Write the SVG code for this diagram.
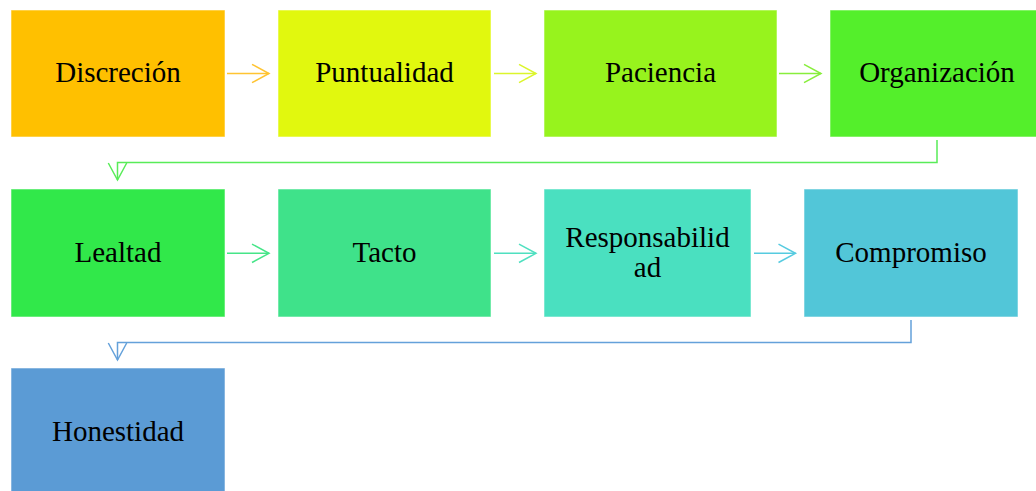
<svg xmlns="http://www.w3.org/2000/svg" width="1036" height="491" viewBox="0 0 1036 491">
  <style>
    .box { stroke: #ffffff; stroke-opacity: 0.55; stroke-width: 1; }
    .lbl { font-family: "Liberation Serif", "Times New Roman", serif; font-size: 29px; fill: #000000; text-anchor: middle; }
    .con { fill: none; stroke-width: 1.5; }
  </style>
  <defs>
    <marker id="m1" markerUnits="userSpaceOnUse" markerWidth="20" markerHeight="22" refX="18" refY="10" orient="auto" overflow="visible">
      <path d="M1 0.8 L18 10 L1 19.2" fill="none" stroke="#FFC432" stroke-width="1.5"/>
    </marker>
    <marker id="m2" markerUnits="userSpaceOnUse" markerWidth="20" markerHeight="22" refX="18" refY="10" orient="auto" overflow="visible">
      <path d="M1 0.8 L18 10 L1 19.2" fill="none" stroke="#DCF52C" stroke-width="1.5"/>
    </marker>
    <marker id="m3" markerUnits="userSpaceOnUse" markerWidth="20" markerHeight="22" refX="18" refY="10" orient="auto" overflow="visible">
      <path d="M1 0.8 L18 10 L1 19.2" fill="none" stroke="#88EE3C" stroke-width="1.5"/>
    </marker>
    <marker id="m4" markerUnits="userSpaceOnUse" markerWidth="20" markerHeight="22" refX="18" refY="10" orient="auto" overflow="visible">
      <path d="M1 0.8 L18 10 L1 19.2" fill="none" stroke="#58EC58" stroke-width="1.5"/>
    </marker>
    <marker id="m5" markerUnits="userSpaceOnUse" markerWidth="20" markerHeight="22" refX="18" refY="10" orient="auto" overflow="visible">
      <path d="M1 0.8 L18 10 L1 19.2" fill="none" stroke="#46E588" stroke-width="1.5"/>
    </marker>
    <marker id="m6" markerUnits="userSpaceOnUse" markerWidth="20" markerHeight="22" refX="18" refY="10" orient="auto" overflow="visible">
      <path d="M1 0.8 L18 10 L1 19.2" fill="none" stroke="#4FE0C0" stroke-width="1.5"/>
    </marker>
    <marker id="m7" markerUnits="userSpaceOnUse" markerWidth="20" markerHeight="22" refX="18" refY="10" orient="auto" overflow="visible">
      <path d="M1 0.8 L18 10 L1 19.2" fill="none" stroke="#56CBE0" stroke-width="1.5"/>
    </marker>
    <marker id="m8" markerUnits="userSpaceOnUse" markerWidth="20" markerHeight="22" refX="18" refY="10" orient="auto" overflow="visible">
      <path d="M1 0.8 L18 10 L1 19.2" fill="none" stroke="#64A1DA" stroke-width="1.5"/>
    </marker>
  </defs>

  <g id="connectors">
    <path class="con" stroke="#FFC432" d="M227 73.5 H269" marker-end="url(#m1)"/>
    <path class="con" stroke="#DCF52C" d="M494 73.5 H536" marker-end="url(#m2)"/>
    <path class="con" stroke="#88EE3C" d="M779 73.5 H821" marker-end="url(#m3)"/>
    <path class="con" stroke="#58EC58" d="M937 140 V162.5 H117.5 V180" marker-end="url(#m4)"/>
    <path class="con" stroke="#46E588" d="M227 253.3 H269" marker-end="url(#m5)"/>
    <path class="con" stroke="#4FE0C0" d="M494 253.3 H536" marker-end="url(#m6)"/>
    <path class="con" stroke="#56CBE0" d="M754 253.3 H795.5" marker-end="url(#m7)"/>
    <path class="con" stroke="#64A1DA" d="M911 320 V342.5 H117.5 V360" marker-end="url(#m8)"/>
  </g>

  <g id="n-discrecion">
    <rect class="box" x="11" y="10" width="214" height="127" fill="#FFC000"/>
    <text class="lbl" x="118" y="82">Discreción</text>
  </g>
  <g id="n-puntualidad">
    <rect class="box" x="278" y="10" width="213" height="127" fill="#E1F80E"/>
    <text class="lbl" x="384.5" y="82">Puntualidad</text>
  </g>
  <g id="n-paciencia">
    <rect class="box" x="544" y="10" width="233" height="127" fill="#97F31D"/>
    <text class="lbl" x="660.5" y="82">Paciencia</text>
  </g>
  <g id="n-organizacion">
    <rect class="box" x="830" y="10" width="214" height="127" fill="#54EF2B"/>
    <text class="lbl" x="937" y="82">Organización</text>
  </g>
  <g id="n-lealtad">
    <rect class="box" x="11" y="189" width="214" height="128" fill="#31E84A"/>
    <text class="lbl" x="118" y="262">Lealtad</text>
  </g>
  <g id="n-tacto">
    <rect class="box" x="278" y="189" width="213" height="128" fill="#3FE28A"/>
    <text class="lbl" x="384.5" y="262">Tacto</text>
  </g>
  <g id="n-responsabilidad">
    <rect class="box" x="544" y="189" width="207" height="128" fill="#4AE0C0"/>
    <text class="lbl" x="647.5" y="246.5">Responsabilid</text>
    <text class="lbl" x="647.5" y="276.5">ad</text>
  </g>
  <g id="n-compromiso">
    <rect class="box" x="804" y="189" width="214" height="128" fill="#52C6D8"/>
    <text class="lbl" x="911" y="262">Compromiso</text>
  </g>
  <g id="n-honestidad">
    <rect class="box" x="11" y="368" width="214" height="130" fill="#5B9BD5"/>
    <text class="lbl" x="118" y="441">Honestidad</text>
  </g>
</svg>
